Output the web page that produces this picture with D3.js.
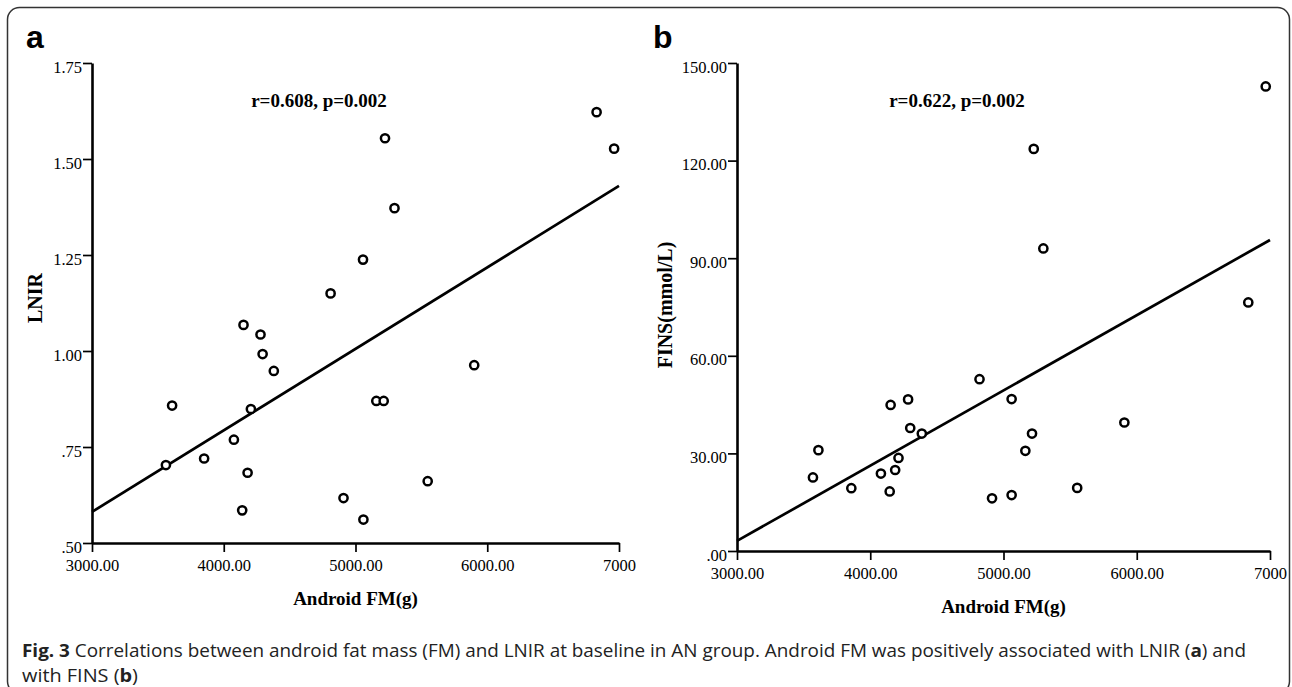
<!DOCTYPE html>
<html>
<head>
<meta charset="utf-8">
<script src="https://cdn.jsdelivr.net/npm/d3@7"></script>
<style>
  body { margin: 0; background: #fff; }
  svg text { font-family: "Liberation Serif", "Times New Roman", serif; }
</style>
</head>
<body>
<svg id="chart" width="1292" height="687"></svg>
<script>
// values
var fmA   = [6830, 6963, 5224, 5296, 5057, 4811, 4150, 4279, 4295, 4380, 5901, 5158, 5214, 3608, 4206, 4077, 3561, 3851, 4181, 5548, 4909, 4140, 5060];
var lnir  = [1.622, 1.527, 1.554, 1.372, 1.238, 1.150, 1.068, 1.043, 0.992, 0.948, 0.963, 0.870, 0.870, 0.858, 0.849, 0.769, 0.703, 0.720, 0.683, 0.661, 0.617, 0.585, 0.561];
var fmB   = [6968, 5227, 5299, 6837, 4820, 5061, 4284, 4153, 4300, 4387, 5214, 5907, 5164, 3611, 4212, 4187, 4080, 3570, 3858, 5553, 4146, 5061, 4914];
var fins  = [142.8, 123.6, 93.0, 76.4, 52.8, 46.7, 46.6, 44.9, 37.8, 36.1, 36.1, 39.5, 30.8, 31.0, 28.6, 24.9, 23.8, 22.6, 19.3, 19.4, 18.3, 17.2, 16.2];

// fitted lines (end points at x = 3000 and 7000)
var fitX = [3000, 7000];
var fitA = [0.581, 1.43];
var fitB = [3.1, 95.6];

var xTicks = [3000, 4000, 5000, 6000, 7000];
var xTickLabels = ["3000.00", "4000.00", "5000.00", "6000.00", "7000"];
var yTicksA = [0.5, 0.75, 1, 1.25, 1.5, 1.75];
var yTickLabelsA = [".50", ".75", "1.00", "1.25", "1.50", "1.75"];
var yTicksB = [0, 30, 60, 90, 120, 150];
var yTickLabelsB = [".00", "30.00", "60.00", "90.00", "120.00", "150.00"];

var svg = d3.select("#chart");

// frame
svg.append("rect")
  .attr("x", 7.5).attr("y", 7.5)
  .attr("width", 1282).attr("height", 686)
  .attr("rx", 12)
  .attr("fill", "none")
  .attr("stroke", "#333")
  .attr("stroke-width", 1.5);

function panel(opt) {
  var x = d3.scaleLinear().domain([3000, 7000]).range([opt.left, opt.right]);
  var y = d3.scaleLinear().domain(opt.yDomain).range([opt.bottom, opt.top]);
  var g = svg.append("g");

  var xAxis = g.append("g")
    .attr("transform", "translate(0," + opt.bottom + ")")
    .call(d3.axisBottom(x).tickValues(xTicks).tickSize(9).tickSizeOuter(0)
      .tickFormat(function (d, i) { return xTickLabels[i]; }));

  var yAxis = g.append("g")
    .attr("transform", "translate(" + opt.left + ",0)")
    .call(d3.axisLeft(y).tickValues(opt.yTicks).tickSize(9).tickSizeOuter(0)
      .tickFormat(function (d, i) { return opt.yLabels[i]; }));

  [xAxis, yAxis].forEach(function (a) {
    a.attr("font-family", null).attr("font-size", null);
    a.select(".domain").attr("stroke", "#000").attr("stroke-width", 2.6);
    a.selectAll(".tick line").attr("stroke", "#000").attr("stroke-width", 1.7);
    a.selectAll(".tick text").style("font-size", "16.5px").attr("fill", "#000");
  });
  xAxis.selectAll(".tick text").attr("y", 28).attr("dy", 0);
  yAxis.selectAll(".tick text").attr("x", -10).attr("dy", 9);

  // regression line
  g.append("line")
    .attr("x1", x(fitX[0])).attr("y1", y(opt.fit[0]))
    .attr("x2", x(fitX[1])).attr("y2", y(opt.fit[1]))
    .attr("stroke", "#000").attr("stroke-width", 2.7);

  g.selectAll("circle.pt")
    .data(opt.xs)
    .enter().append("circle")
    .attr("class", "pt")
    .attr("cx", function (d) { return x(d); })
    .attr("cy", function (d, i) { return y(opt.ys[i]); })
    .attr("r", 4.1)
    .attr("fill", "#fff")
    .attr("stroke", "#000")
    .attr("stroke-width", 2.5);

  g.append("text")
    .attr("x", (opt.left + opt.right) / 2).attr("y", opt.bottom + 62)
    .attr("text-anchor", "middle")
    .style("font-weight", "bold").style("font-size", "19px")
    .text("Android FM(g)");

  g.append("text")
    .attr("transform", "translate(" + opt.yTitleX + "," + opt.yTitleY + ") rotate(-90)")
    .attr("text-anchor", "middle")
    .style("font-weight", "bold").style("font-size", "20px")
    .text(opt.yTitle);

  g.append("text")
    .attr("x", opt.statX).attr("y", 107)
    .attr("text-anchor", "middle")
    .style("font-weight", "bold").style("font-size", "19px")
    .text(opt.stat);

  g.append("text")
    .attr("x", opt.letterX).attr("y", 48)
    .style("font-family", "'Liberation Sans', Arial, sans-serif")
    .style("font-weight", "bold").style("font-size", "32px")
    .text(opt.letter);
}

panel({
  left: 92, right: 619, top: 63, bottom: 543,
  yDomain: [0.5, 1.75], yTicks: yTicksA, yLabels: yTickLabelsA,
  xs: fmA, ys: lnir, fit: fitA,
  yTitle: "LNIR", yTitleX: 42, yTitleY: 298,
  stat: "r=0.608, p=0.002", statX: 319,
  letter: "a", letterX: 26
});

panel({
  left: 737, right: 1270, top: 63, bottom: 551,
  yDomain: [0, 150], yTicks: yTicksB, yLabels: yTickLabelsB,
  xs: fmB, ys: fins, fit: fitB,
  yTitle: "FINS(mmol/L)", yTitleX: 672, yTitleY: 305,
  stat: "r=0.622, p=0.002", statX: 957,
  letter: "b", letterX: 653
});

// caption
var capFont = "'Open Sans', 'Noto Sans', sans-serif";
var cap = svg.append("g").attr("fill", "#222");

var l1 = cap.append("text").attr("x", 22).attr("y", 657)
  .attr("textLength", 1224).attr("lengthAdjust", "spacingAndGlyphs");
l1.append("tspan").style("font-weight", "bold").text("Fig. 3");
l1.append("tspan").text(" Correlations between android fat mass (FM) and LNIR at baseline in AN group. Android FM was positively associated with LNIR (");
l1.append("tspan").style("font-weight", "bold").text("a");
l1.append("tspan").text(") and");

var l2 = cap.append("text").attr("x", 22).attr("y", 682)
  .attr("textLength", 116).attr("lengthAdjust", "spacingAndGlyphs");
l2.append("tspan").text("with FINS (");
l2.append("tspan").style("font-weight", "bold").text("b");
l2.append("tspan").text(")");

cap.selectAll("text, tspan").style("font-family", capFont).style("font-size", "17.5px");
</script>
</body>
</html>
